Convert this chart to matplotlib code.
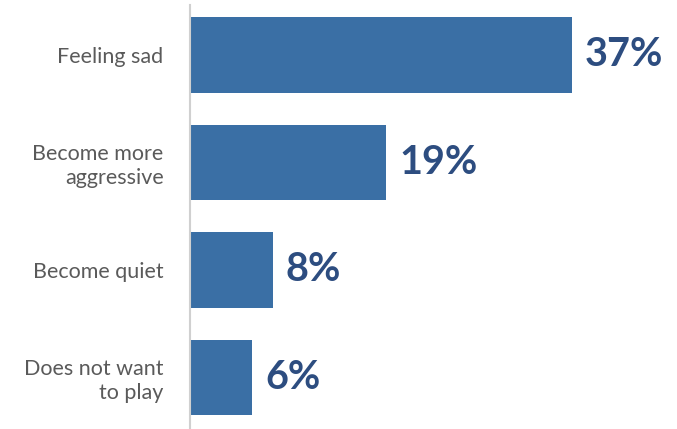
import matplotlib
matplotlib.use('Agg')
import matplotlib.pyplot as plt

categories = ['Feeling sad', 'Become more\naggressive', 'Become quiet', 'Does not want\nto play']
values = [37, 19, 8, 6]
value_labels = ['37%', '19%', '8%', '6%']

bar_color = '#3a6fa5'
label_color = '#2d4d80'

fig = plt.figure(figsize=(6.77, 4.29), dpi=100)
ax = fig.add_axes([190 / 677, 0, 487 / 677, 424 / 429])

pos = range(len(categories))
ax.barh(pos, values, height=0.70, color=bar_color)

ax.set_xlim(0, 47.2)
ax.set_ylim(3.48, -0.465)

for p, v, lab in zip(pos, values, value_labels):
    ax.text(v + 1.3, p, lab, va='center', ha='left', fontsize=28.5,
            fontweight='bold', color=label_color, family='Lato')

ax.set_yticks(list(pos))
ax.set_yticklabels(categories, fontsize=15.5, color='#5a5a5a', family='Lato',
                   ha='right', linespacing=1.25)
ax.tick_params(axis='y', length=0, pad=19)
ax.set_xticks([])

for side in ['top', 'right', 'bottom']:
    ax.spines[side].set_visible(False)
ax.spines['left'].set_color('#d0d0d0')
ax.spines['left'].set_linewidth(1.5)

plt.savefig('out.png', dpi=100)
